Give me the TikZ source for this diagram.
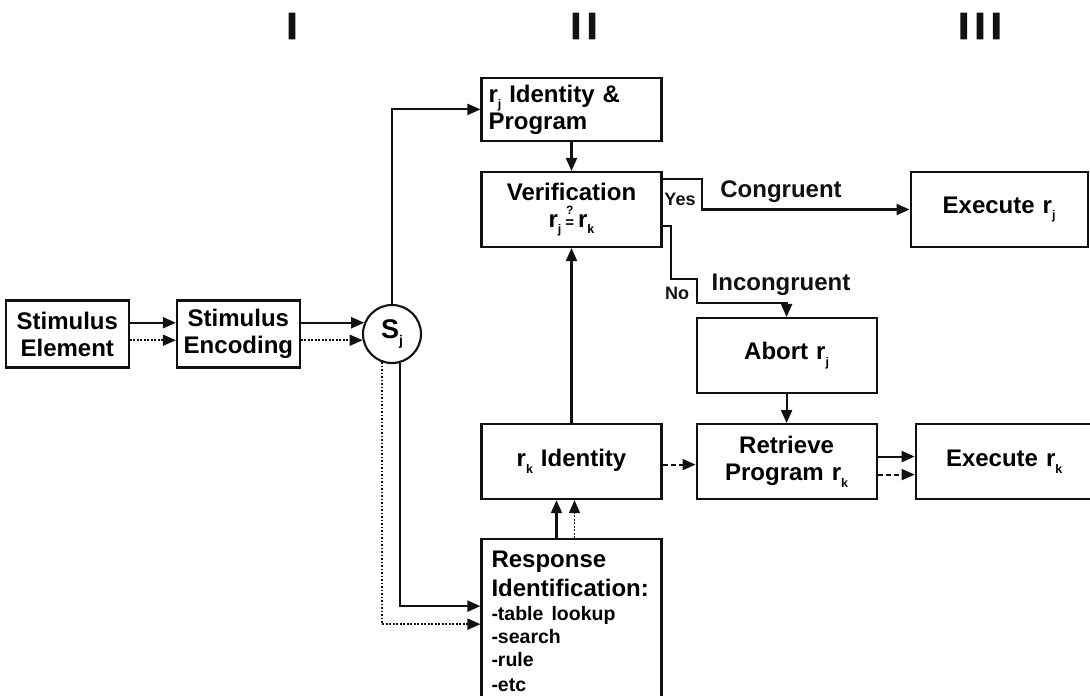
\documentclass[tikz,border=0pt]{standalone}
\usepackage{fontspec}
\usepackage{amsmath}
\setmainfont{Liberation Sans}
\newfontfamily\headfont[FakeBold=3.5]{Liberation Sans}
\usetikzlibrary{arrows.meta,positioning}
\definecolor{scanInk}{HTML}{111111}
\newcommand\boxfont{\fontsize{24}{27}\selectfont\bfseries}
\newcommand\listfont{\fontsize{19.5}{23}\selectfont\bfseries}
\newcommand\lowsub[2][12.5]{\raisebox{-0.28em}{\fontsize{#1}{#1}\selectfont #2}}
\newcommand\qmeq{\ensuremath{\overset{\text{\fontsize{12}{12}\selectfont ?}}{\text{\fontsize{15}{8}\selectfont =}}}}
\tikzset{
  stimblock/.style={rectangle,draw=scanInk,line width=2.1pt,minimum width=123pt,minimum height=67pt,
    inner sep=2pt,align=center,font=\boxfont},
  procblock/.style={rectangle,draw=scanInk,line width=2.1pt,minimum width=180pt,minimum height=75pt,
    inner sep=6pt,text width=166pt,align=center,font=\boxfont},
  execblock/.style={procblock,minimum width=177pt,text width=163pt},
  stimcircle/.style={circle,draw=scanInk,line width=2.1pt,minimum size=58pt,inner sep=0pt,
    font=\fontsize{27}{27}\selectfont\bfseries},
  headlbl/.style={inner sep=0pt,text=scanInk,font=\headfont\bfseries\fontsize{37}{37}\selectfont},
  flowlbl/.style={inner sep=0pt,text=scanInk,font=\boxfont},
  edgelbl/.style={inner sep=0pt,text=scanInk,font=\fontsize{18}{18}\selectfont\bfseries},
  arrow/.style={-{Triangle[length=13pt,width=11pt]},line width=2.1pt,draw=scanInk},
  dotarrow/.style={arrow,line width=1.7pt,dash pattern=on 1.7pt off 1.8pt},
  dasharrow/.style={arrow,line width=1.8pt,dash pattern=on 5pt off 3pt}
}
\begin{document}
\begin{tikzpicture}[x=1pt,y=-1pt]
  \useasboundingbox (0,0) rectangle (1090,696);
  \node[headlbl] (colI) at (292,26) {I};
  \node[headlbl] (colII) at (584,26) {I\hspace{6pt}I};
  \node[headlbl] (colIII) at (980,26) {I\hspace{6pt}I\hspace{6pt}I};
  \node[procblock] (verif) at (571.5,209.5) {Verification\\r\lowsub{j}\,\qmeq\,r\lowsub{k}};
  \node[procblock,minimum height=63pt,align=left,above=29pt of verif] (rjid) {r\lowsub{j} Identity \&\\Program};
  \node[procblock,below=175pt of verif] (rkid) {r\lowsub{k} Identity};
  \node[procblock,right=33pt of rkid] (retr) {Retrieve\\Program r\lowsub{k}};
  \node[procblock,above=29pt of retr] (abort) {Abort r\lowsub{j}};
  \node[execblock,right=37pt of retr] (execk) {Execute r\lowsub{k}};
  \node[execblock,right=247pt of verif] (execj) {Execute r\lowsub{j}};
  \node[procblock,align=left,text width=160pt,inner ysep=12pt,below=38pt of rkid] (respid)
    {Response\\[2pt]Identification:\\[1pt]\listfont -table lookup\\-search\\-rule\\[-2pt]-etc};
  \node[stimcircle] (sj) at (392,334) {S\lowsub[14]{j}};
  \node[stimblock,left=61pt of sj] (stimenc) {Stimulus\\Encoding};
  \node[stimblock,left=46pt of stimenc] (stimel) {Stimulus\\Element};
  \node[edgelbl] (yes) at (680,199) {Yes};
  \node[edgelbl] (no) at (677,293) {No};
  \node[flowlbl] (congr) at (781,192) {Congruent};
  \node[flowlbl] (incongr) at (781,285) {Incongruent};
  \draw[arrow] (sj.158 -| stimel.east) -- (sj.158 -| stimenc.west);
  \draw[dotarrow] (sj.192 -| stimel.east) -- (sj.192 -| stimenc.west);
  \draw[arrow] (sj.158 -| stimenc.east) -- (sj.158);
  \draw[dotarrow] (sj.192 -| stimenc.east) -- (sj.192);
  \draw[arrow] (sj.north) |- (rjid.west);
  \draw[arrow] (rjid) -- (verif);
  \draw[arrow] (rkid) -- (verif);
  \draw[arrow] ([yshift=-8pt]verif.north east) -- ++(39,0) |- (execj.west);
  \draw[arrow] ([yshift=22pt]verif.south east) -- ++(8,0) -- ++(0,53) -- ++(26,0) -- ++(0,24) -| (abort.north);
  \draw[arrow] (abort) -- (retr);
  \draw[dasharrow] ([yshift=-3pt]rkid.east) -- ([yshift=-3pt]retr.west);
  \draw[arrow] ([yshift=5pt]retr.east) -- ([yshift=5pt]execk.west);
  \draw[dasharrow] ([yshift=-13pt]retr.east) -- ([yshift=-13pt]execk.west);
  \draw[arrow] ([xshift=-15pt]respid.north) -- ([xshift=-15pt]rkid.south);
  \draw[dotarrow] ([xshift=3pt]respid.north) -- ([xshift=3pt]rkid.south);
  \draw[arrow] (sj.-74) |- ([yshift=-68pt]respid.north west);
  \draw[dotarrow] (sj.-110) |- ([yshift=-86pt]respid.north west);
\end{tikzpicture}
\end{document}
